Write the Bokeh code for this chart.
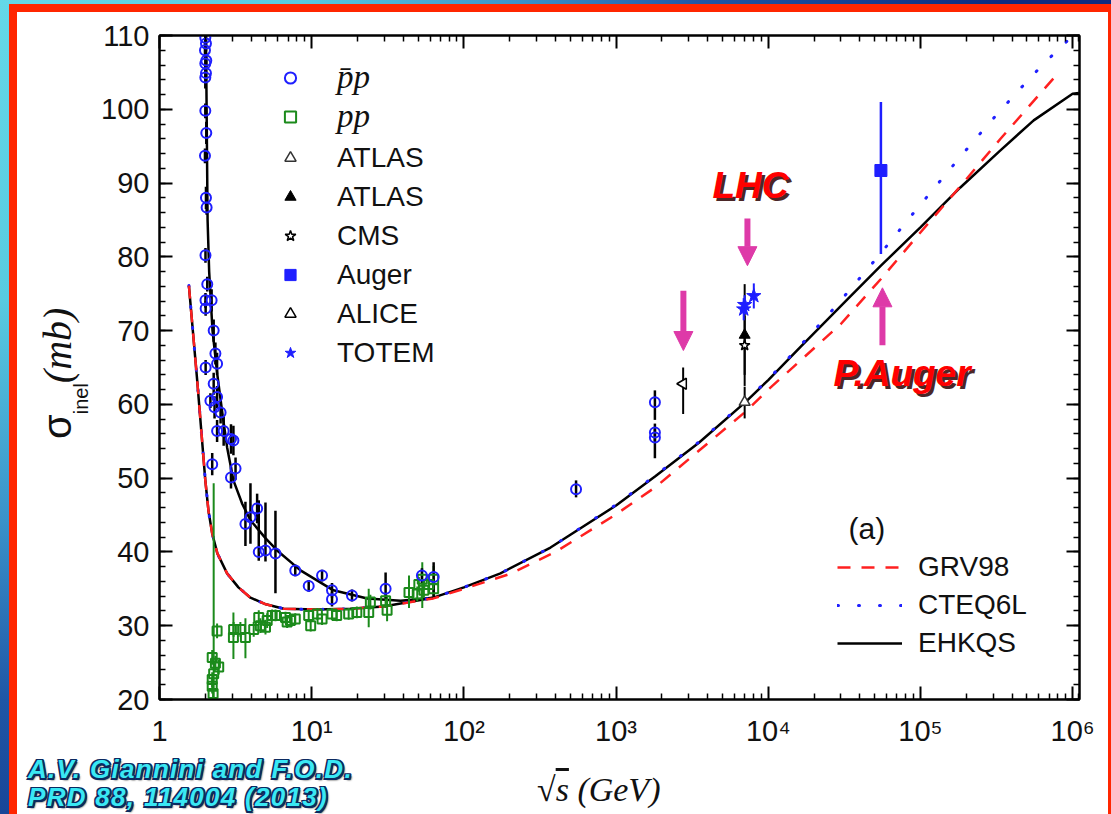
import math
from bokeh.plotting import figure
from bokeh.layouts import column
from bokeh.models import (Range1d, LogAxis, LinearAxis, FixedTicker, Label, Arrow, Div,
                          NormalHead, Legend, LegendItem, ColumnDataSource)
from bokeh.embed import file_html
from bokeh.resources import INLINE

# ---------------- model curves (sqrt(s) in GeV, sigma_inel in mb) ----------------
ehkqs_pp_s = [1.56, 1.77, 2.0, 2.1, 2.22, 2.4, 2.78, 3.3, 3.96, 5.0, 6.55, 10.8, 17.9,
              29.6, 63.0, 100, 174, 371, 1000, 1820, 3500, 7080, 1e4, 16300, 33000,
              55000, 1e5, 183000, 330000, 555000, 1e6, 1.1e6]
ehkqs_pp_sig = [76.1, 63.2, 49.7, 45.5, 42.5, 39.8, 37.1, 35.2, 33.8, 32.9, 32.3, 32.2, 32.3,
                32.6, 33.8, 35.2, 37.1, 40.6, 46.3, 50.3, 54.8, 60.3, 63.3, 67.8, 74.2,
                78.8, 84.0, 89.4, 94.3, 98.5, 102.1, 102.2]
ehkqs_pbar_s = [1.98, 2.02, 2.05, 2.07, 2.12, 2.23, 2.4, 2.6, 2.78, 3.06, 3.5,
                3.96, 5.0, 5.93, 8.44, 13.9, 23.2, 38.4, 63.0]
ehkqs_pbar_sig = [118, 110, 95, 85, 78, 70, 64, 58.5, 54.2, 49.7, 46.5,
                  44.3, 41.8, 40.2, 37.5, 34.8, 33.7, 33.4, 33.8]
grv98_s = [1.56, 1.77, 2.0, 2.1, 2.22, 2.4, 2.78, 3.3, 3.96, 5.0, 6.55, 10.8, 17.9,
           29.6, 63.0, 100, 200, 400, 1000, 1820, 7080, 1e4, 3e4, 5.5e4, 1e5, 1.8e5,
           3.36e5, 7.8e5]
grv98_sig = [76.1, 63.2, 49.7, 45.5, 42.5, 39.8, 37.1, 35.2, 33.8, 32.9, 32.3, 32.2, 32.3,
             32.6, 33.7, 35.0, 37.0, 40.0, 45.1, 48.8, 59.0, 62.0, 70.9, 77.0, 83.3, 89.4,
             96.0, 104.6]
cteq6l_s = [1.56, 1.77, 2.0, 2.1, 2.22, 2.4, 2.78, 3.3, 3.96, 5.0, 6.55, 10.8, 17.9,
            29.6, 63.0, 100, 174, 371, 1000, 1820, 3500, 7080, 1e4, 16300, 24000, 36300,
            55000, 81800, 1.22e5, 1.82e5, 2.74e5, 4.3e5, 6.6e5, 8.5e5, 1.05e6]
cteq6l_sig = [76.1, 63.2, 49.7, 45.5, 42.5, 39.8, 37.1, 35.2, 33.8, 32.9, 32.3, 32.2, 32.3,
              32.6, 33.8, 35.2, 37.1, 40.6, 46.4, 50.4, 54.9, 60.4, 63.4, 68.0, 71.8, 76.1,
              80.5, 84.9, 89.2, 93.5, 97.8, 102.3, 106.4, 108.5, 110.5]

# ---------------- data points ----------------
pbar_s = [2.00, 2.02, 1.99, 2.03, 2.00, 2.02, 2.00, 2.00, 2.03, 1.99, 2.02, 2.04,
          2.005, 2.06, 2.005, 2.01, 2.20, 2.27, 2.01, 2.33, 2.39, 2.27, 2.39, 2.16,
          2.30, 2.52, 2.39, 2.64, 2.95, 3.06, 2.22, 2.95, 3.16, 3.67, 3.96, 4.38,
          4.49, 4.97, 5.78, 7.8, 9.56, 11.7, 13.6, 13.6, 18.4, 30.6, 53.0, 63.3,
          546, 1800, 1800, 1800]
pbar_sig = [109.7, 108.9, 108.0, 106.6, 106.2, 104.9, 104.3, 99.8, 96.8, 93.7, 88.0, 86.7,
            80.2, 76.3, 74.1, 73.0, 74.1, 70.0, 65.0, 66.9, 65.5, 62.8, 61.0, 60.5,
            59.6, 58.9, 56.4, 56.4, 55.3, 55.1, 51.9, 50.1, 51.3, 43.8, 44.7, 45.9,
            40.0, 40.2, 39.8, 37.5, 35.4, 36.8, 34.8, 33.6, 34.1, 35.0, 36.8, 36.6,
            48.5, 60.3, 56.2, 55.5]
pbar_err_dn = [1, 1, 1, 1, 1, 1, 1.5, 1, 1.5, 1, 1.5, 1,
               1, 1, 1, 1, 1.5, 1.5, 1, 1.5, 1.5, 1.5, 1.5, 1,
               1.5, 1.5, 1.5, 2, 2, 2, 1.5, 1.5, 1.5, 3, 3.6, 2,
               1.2, 1.5, 5.4, 0.8, 0.8, 0.8, 1, 1, 0.8, 1.3, 1, 2.7,
               1.1, 2.4, 1.2, 2.8]
pbar_err_up = [1, 1, 1, 1, 1, 1, 1.5, 1, 1.5, 1, 1.5, 1,
               1, 1, 1, 1, 1.5, 1.5, 1, 1.5, 1.5, 1.5, 1.5, 1,
               1.5, 1.5, 1.5, 2, 2, 2, 1.5, 1.5, 1.5, 3, 4.6, 2,
               7, 6.5, 5.8, 0.8, 0.8, 0.8, 1, 1, 0.8, 2.2, 1, 2.0,
               1.2, 1.6, 1.2, 1.2]

pp_s = [2.22, 2.22, 2.22, 2.25, 2.27, 2.33, 2.45, 2.39, 3.07, 3.06, 3.4, 3.67,
        4.16, 4.6, 4.49, 4.97, 5.1, 5.5, 5.78, 6.73, 6.9, 7.25, 7.8, 9.56,
        9.85, 10.9, 11.7, 13.6, 14.6, 17.5, 19.8, 23.7, 24.3, 30.6, 31.3, 43.6,
        49.4, 50.6, 54.6, 53.3, 58.8, 63.3, 63.3]
pp_sig = [25.7, 22.7, 21.8, 20.8, 23.5, 24.9, 24.4, 29.3, 29.5, 28.4, 29.5, 28.4,
          29.5, 30.0, 31.1, 29.8, 30.7, 31.4, 31.4, 31.1, 30.5, 30.7, 30.9, 31.4,
          30.0, 31.6, 30.9, 31.6, 31.4, 31.6, 31.8, 31.8, 33.2, 33.4, 32.1, 34.5,
          34.3, 35.6, 34.8, 36.3, 35.6, 36.3, 35.0]
pp_err_dn = [1, 1, 1, 0.8, 3.5, 1, 1, 1, 1, 2.9, 1, 2.8,
             1, 1, 1, 1, 1, 0.8, 0.8, 0.8, 0.8, 0.8, 0.8, 0.8,
             0.8, 0.8, 0.8, 0.8, 0.8, 0.8, 0.8, 2.0, 1, 1, 1.5, 2.1,
             1, 1, 1, 3.9, 1, 2.3, 1]
pp_err_up = [1, 1, 1, 0.8, 25.8, 1, 1, 1, 1, 3.4, 1, 2.6,
             1, 1, 1, 1, 1, 0.8, 0.8, 0.8, 0.8, 0.8, 0.8, 0.8,
             0.8, 0.8, 0.8, 0.8, 0.8, 0.8, 0.8, 3.2, 1, 1, 2.0, 2.3,
             1, 1, 1, 2.3, 1, 1.8, 1]

atlas_open_s, atlas_open_sig, atlas_open_dn, atlas_open_up = [7000], [60.3], [2.2], [2.1]
atlas_full_s, atlas_full_sig, atlas_full_dn, atlas_full_up = [7000], [69.4], [6.9], [6.9]
cms_s, cms_sig, cms_dn, cms_up = [7000], [68.0], [4.0], [4.0]
auger_s, auger_sig, auger_dn, auger_up = [55000], [91.7], [11.3], [9.3]
alice_s, alice_sig, alice_dn, alice_up = [2760], [62.8], [4.1], [2.2]
totem_s = [6900, 7000, 8040]
totem_sig = [72.9, 73.5, 74.7]
totem_dn = [1.5, 1.3, 1.7]
totem_up = [1.5, 1.3, 1.7]

# annotation arrows (sqrt(s), sigma from, sigma to)
arrow_s = [2770, 7300, 56300]
arrow_from = [75.4, 85.2, 68.0]
arrow_to = [67.3, 78.8, 75.8]

x_major = [1, 10, 100, 1000, 10000, 100000, 1000000]
x_labels = ["1", "10\u00b9", "10\u00b2", "10\u00b3", "10\u2074", "10\u2075", "10\u2076"]
y_major = [20, 30, 40, 50, 60, 70, 80, 90, 100, 110]

# ---------------- styling ----------------
BLUE = "#1f1fff"
GREEN = "#1b8a1b"
RED = "#ff2020"
MAG = "#de3aa8"
SANS = "Liberation Sans"
SERIF = "Liberation Serif"

p = figure(width=1111, height=814, x_axis_type="log",
           x_range=Range1d(1, 1.11e6), y_range=Range1d(20, 110),
           output_backend="svg", toolbar_location=None,
           min_border_left=159, min_border_right=32,
           min_border_top=35, min_border_bottom=115)
p.border_fill_color = None
p.background_fill_color = None
p.outline_line_color = "black"
p.outline_line_width = 2
p.grid.visible = False
p.styles = {
    "background": (
        "linear-gradient(#ffffff,#ffffff) 17px 12px / 1091px 802px no-repeat, "
        "linear-gradient(#ff2600,#ff2600) 9px 4px / 1102px 810px no-repeat, "
        "radial-gradient(circle at 0px 0px, #64d8e8 0px, #58cbe0 300px, "
        "#3a92ca 520px, #1f56a6 700px, #0c2b80 1000px)"
    )
}

x_minor = [m * 10 ** k for k in range(0, 6) for m in range(2, 10)] + [1.1e6]
x_ticker = FixedTicker(ticks=x_major, minor_ticks=x_minor)
y_ticker = FixedTicker(ticks=y_major, minor_ticks=list(range(20, 111, 2)))


def style_axis(ax, show_labels):
    ax.axis_line_width = 2
    ax.major_tick_in = 13
    ax.major_tick_out = 0
    ax.minor_tick_in = 6
    ax.minor_tick_out = 0
    ax.major_tick_line_width = 2
    ax.minor_tick_line_width = 1.5
    ax.major_label_text_font = SANS
    ax.major_label_text_color = "#111111"
    if show_labels:
        ax.major_label_text_font_size = "29px"
    else:
        ax.major_label_text_font_size = "8px"
        ax.major_label_text_alpha = 0


xb = p.xaxis[0]
xb.ticker = x_ticker
xb.major_label_overrides = {v: t for v, t in zip(x_major, x_labels)}
style_axis(xb, True)
xb.major_label_standoff = 15

yl = p.yaxis[0]
yl.ticker = y_ticker
style_axis(yl, True)
yl.major_label_standoff = 10

xt = LogAxis(ticker=x_ticker)
style_axis(xt, False)
p.add_layout(xt, "above")
yr = LinearAxis(ticker=y_ticker)
style_axis(yr, False)
p.add_layout(yr, "right")

# ---------------- curves ----------------
r_ehkqs = p.line(ehkqs_pp_s, ehkqs_pp_sig, color="black", line_width=2.5)
p.line(ehkqs_pbar_s, ehkqs_pbar_sig, color="black", line_width=2.5)
r_cteq = p.line(cteq6l_s, cteq6l_sig, color=BLUE, line_width=3, line_dash="1 20",
                line_cap="round")
r_grv = p.line(grv98_s, grv98_sig, color=RED, line_width=2.5, line_dash="13 11")

# ---------------- error bars ----------------
def bars(s, sig, dn, up, color, width=2):
    lo = [v - d for v, d in zip(sig, dn)]
    hi = [v + u for v, u in zip(sig, up)]
    p.segment(x0=s, y0=lo, x1=s, y1=hi, line_color=color, line_width=width)


bars(pp_s, pp_sig, pp_err_dn, pp_err_up, GREEN)
bars(pbar_s, pbar_sig, pbar_err_dn, pbar_err_up, "black", 2.5)
bars(atlas_full_s, atlas_full_sig, atlas_full_dn, atlas_full_up, "black")
bars(atlas_open_s, atlas_open_sig, atlas_open_dn, atlas_open_up, "black")
bars(cms_s, cms_sig, cms_dn, cms_up, "black")
bars(alice_s, alice_sig, alice_dn, alice_up, "black")
bars(auger_s, auger_sig, auger_dn, auger_up, BLUE, 2.5)
bars(totem_s, totem_sig, totem_dn, totem_up, BLUE)

# ---------------- markers ----------------
r_pp = p.scatter(pp_s, pp_sig, marker="square", size=9, line_color=GREEN,
                 fill_alpha=0, line_width=2)
r_pbar = p.scatter(pbar_s, pbar_sig, marker="circle", size=10, line_color=BLUE,
                   fill_alpha=0, line_width=2)
r_atlas_o = p.scatter(atlas_open_s, atlas_open_sig, marker="triangle", size=11,
                      line_color="#333333", fill_color="white", line_width=1.5)
r_atlas_f = p.scatter(atlas_full_s, atlas_full_sig, marker="triangle", size=11,
                      line_color="black", fill_color="black")
r_cms = p.scatter(cms_s, cms_sig, marker="star", size=11, line_color="black",
                  fill_color="white", line_width=1.5)
r_auger = p.scatter(auger_s, auger_sig, marker="square", size=12, line_color=BLUE,
                    fill_color=BLUE)
alice_src = ColumnDataSource(dict(x=alice_s, y=alice_sig, ang=[math.pi / 2] * len(alice_s)))
r_alice = p.scatter("x", "y", source=alice_src, marker="triangle", size=11, angle="ang",
                    line_color="black", fill_color="white", line_width=1.5)
r_totem = p.scatter(totem_s, totem_sig, marker="star", size=15, line_color=BLUE,
                    fill_color=BLUE)

# ---------------- legends ----------------
def make_legend(items, loc, font, size, style, gw, gh, standoff):
    lg = Legend(items=items, location=loc, padding=0, margin=0, spacing=0,
                glyph_width=gw, glyph_height=gh, label_height=gh,
                label_standoff=standoff, border_line_color=None,
                background_fill_alpha=0, label_text_font=font,
                label_text_font_size=size, label_text_font_style=style,
                label_text_color="#111111")
    p.add_layout(lg)


make_legend([LegendItem(label="p\u0304p", renderers=[r_pbar]),
             LegendItem(label="pp", renderers=[r_pp])],
            (117, 563), SERIF, "33px", "italic", 28, 39, 33)
make_legend([LegendItem(label="ATLAS", renderers=[r_atlas_o]),
             LegendItem(label="ATLAS", renderers=[r_atlas_f]),
             LegendItem(label="CMS", renderers=[r_cms]),
             LegendItem(label="Auger", renderers=[r_auger]),
             LegendItem(label="ALICE", renderers=[r_alice], index=0),
             LegendItem(label="TOTEM", renderers=[r_totem])],
            (117, 327), SANS, "28px", "normal", 28, 39, 33)
make_legend([LegendItem(label="GRV98", renderers=[r_grv]),
             LegendItem(label="CTEQ6L", renderers=[r_cteq]),
             LegendItem(label="EHKQS", renderers=[r_ehkqs])],
            (678, 37), SANS, "28px", "normal", 65, 38, 16)

p.add_layout(Label(x=689, y=171, x_units="screen", y_units="screen", text="(a)",
                   text_font=SANS, text_font_size="30px", text_color="#111111",
                   text_baseline="middle"))

# ---------------- arrows ----------------
arrow_src = ColumnDataSource(dict(x0=arrow_s, y0=arrow_from, x1=arrow_s, y1=arrow_to))
p.add_layout(Arrow(source=arrow_src, x_start="x0", y_start="y0", x_end="x1", y_end="y1",
                   line_color=MAG, line_width=6,
                   end=NormalHead(size=19, fill_color=MAG, line_color=MAG, line_width=1)))

# ---------------- texts inside the frame ----------------
def shadow_text(x, y, text, size, color, shadow, off=3):
    p.add_layout(Label(x=x + off, y=y - off, x_units="screen", y_units="screen", text=text,
                       text_font=SANS, text_font_size=size, text_font_style="bold italic",
                       text_color=shadow, text_baseline="middle", text_alpha=0.85))
    p.add_layout(Label(x=x, y=y, x_units="screen", y_units="screen", text=text,
                       text_font=SANS, text_font_size=size, text_font_style="bold italic",
                       text_color=color, text_baseline="middle"))


shadow_text(553, 514, "LHC", "37px", "#ff0000", "#2a0000")
shadow_text(674, 326, "P.Auger", "37px", "#ff0000", "#2a0000")

# ---------------- texts outside the frame (HTML overlays) ----------------
outline = ("-1.5px -1.5px 0 #0b2a60, 1.5px -1.5px 0 #0b2a60, -1.5px 1.5px 0 #0b2a60, "
           "1.5px 1.5px 0 #0b2a60, 0 2px 0 #0b2a60, 2px 0 0 #0b2a60, 2px 2px 2px #000")
cite = Div(text="A.V. Giannini and F.O.D.<br>PRD 88, 114004 (2013)",
           styles={"position": "absolute", "left": "23px", "top": "750px",
                   "font-family": "'Liberation Sans', sans-serif", "font-weight": "bold",
                   "font-style": "italic", "font-size": "26px", "line-height": "28px",
                   "letter-spacing": "1.3px",
                   "color": "#3ae8f4", "text-shadow": outline,
                   "white-space": "nowrap", "z-index": "5"})

ytitle = Div(text=("<span style=\"font-family:'Liberation Sans';font-size:40px\">\u03c3</span>"
                   "<span style=\"font-family:'Liberation Sans';font-size:20px;"
                   "position:relative;top:17px\">inel</span>"
                   "<span style=\"font-family:'Liberation Serif';font-style:italic;"
                   "font-size:40px\">(mb)</span>"),
             styles={"position": "absolute", "left": "30px", "top": "434px",
                     "transform-origin": "0 0", "transform": "rotate(-90deg)",
                     "white-space": "nowrap", "line-height": "44px", "color": "#111111",
                     "z-index": "5"})

xtitle = Div(text=("<span style=\"font-style:normal\">\u221a</span>"
                   "<span style=\"text-decoration:overline\">s</span>"
                   "<span>&nbsp;(GeV)</span>"),
             styles={"position": "absolute", "left": "532px", "top": "766px",
                     "font-family": "'Liberation Serif', serif", "font-style": "italic",
                     "font-size": "34px", "line-height": "38px", "color": "#111111",
                     "white-space": "nowrap", "z-index": "5"})

layout = column(p, cite, ytitle, xtitle)
open("out.html", "w").write(file_html(layout, INLINE))
